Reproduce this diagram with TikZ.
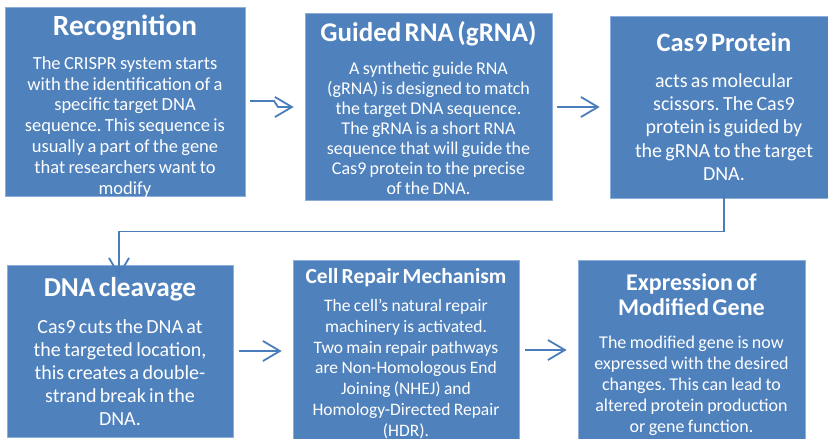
\documentclass[tikz,border=0pt]{standalone}
\usepackage{fontspec}
\setmainfont{Carlito}
\usetikzlibrary{arrows.meta}
\definecolor{boxblue}{HTML}{4F81BD}
\definecolor{boxedge}{HTML}{8DAEDA}
\definecolor{linkblue}{HTML}{4A7EBB}
\frenchspacing
\begin{document}
\begin{tikzpicture}[x=1pt,y=-1pt,
  stage/.style={rectangle, fill=boxblue, draw=boxedge, line width=0.6pt, inner sep=0pt},
  stagetext/.style={anchor=north, text=white, align=center, inner sep=0pt},
  link/.style={draw=linkblue, line width=1.8pt, line join=miter,
    -{Straight Barb[length=17pt,width=20pt]}}]
\useasboundingbox (0,0) rectangle (828,439);

% boxes
\node[stage, minimum width=240pt, minimum height=189pt] (recog)   at (125,101.5) {};
\node[stage, minimum width=247pt, minimum height=187pt] (grna)    at (428.5,106.5) {};
\node[stage, minimum width=228pt, minimum height=182pt] (cas)     at (724,107) {};
\node[stage, minimum width=226pt, minimum height=172pt] (cleave)  at (120,351) {};
\node[stage, minimum width=226pt, minimum height=181pt] (repair)  at (406,350.5) {};
\node[stage, minimum width=227pt, minimum height=180pt] (express) at (691.5,350) {};

% box texts: title, then description
\node[stagetext, text width=232pt] (recog-t) at (125,15)
  {{\fontsize{29.3}{32}\selectfont\bfseries Recognition\par}\vspace{12.7pt}
   {\fontsize{18.5}{20.8}\selectfont The CRISPR system starts\\ with the identification of a\\ specific target DNA\\ sequence. This sequence is\\ usually a part of the gene\\ that researchers want to\\ modify\par}};

\node[stagetext, text width=240pt] (grna-t) at (428.5,21)
  {{\fontsize{27}{30}\selectfont\bfseries Guided RNA (gRNA)\par}\vspace{13pt}
   {\fontsize{18}{20}\selectfont A synthetic guide RNA\\ (gRNA) is designed to match\\ the target DNA sequence.\\ The gRNA is a short RNA\\ sequence that will guide the\\ Cas9 protein to the precise\\ of the DNA.\par}};

\node[stagetext, text width=220pt] (cas-t) at (724,33)
  {{\fontsize{26.5}{30}\selectfont\bfseries Cas9 Protein\par}\vspace{12pt}
   {\fontsize{20}{23.4}\selectfont acts as molecular\\ scissors. The Cas9\\ protein is guided by\\ the gRNA to the target\\ DNA.\par}};

\node[stagetext, text width=220pt] (cleave-t) at (120,277)
  {{\fontsize{27.3}{30}\selectfont\bfseries DNA cleavage\par}\vspace{14pt}
   {\fontsize{20}{23}\selectfont Cas9 cuts the DNA at\\ the targeted location,\\ this creates a double-\\ strand break in the\\ DNA.\par}};

\node[stagetext, text width=222pt] (repair-t) at (406,268)
  {{\fontsize{21.5}{24}\selectfont\bfseries Cell Repair Mechanism\par}\vspace{7.5pt}
   {\fontsize{17.5}{20.8}\selectfont The cell’s natural repair\\ machinery is activated.\\ Two main repair pathways\\ are Non-Homologous End\\ Joining (NHEJ) and\\ Homology-Directed Repair\\ (HDR).\par}};

\node[stagetext, text width=222pt] (express-t) at (691.5,273)
  {{\fontsize{24}{25.5}\selectfont\bfseries Expression of\\ Modified Gene\par}\vspace{12.5pt}
   {\fontsize{18}{20.8}\selectfont The modified gene is now\\ expressed with the desired\\ changes. This can lead to\\ altered protein production\\ or gene function.\par}};

% connectors
\coordinate (a1s) at (250,101);
\draw[link] (a1s) -- (274,101) -- (278,107) -- ([xshift=-11pt]grna.west |- 0,107);
\draw[link] ([xshift=5pt]grna.east |- 0,107) -- ([xshift=-10pt]cas.west |- 0,107);
\draw[link] ([yshift=6pt]cas.south -| 724,0) -- (724,231.5) -- (119,231.5) -- ([yshift=-12pt]cleave.north -| 119,0);
\draw[link] ([xshift=6pt]cleave.east |- 0,351) -- ([xshift=-11pt]repair.west |- 0,351);
\draw[link] ([xshift=6pt]repair.east |- 0,350) -- ([xshift=-11pt]express.west |- 0,350);
\end{tikzpicture}
\end{document}
